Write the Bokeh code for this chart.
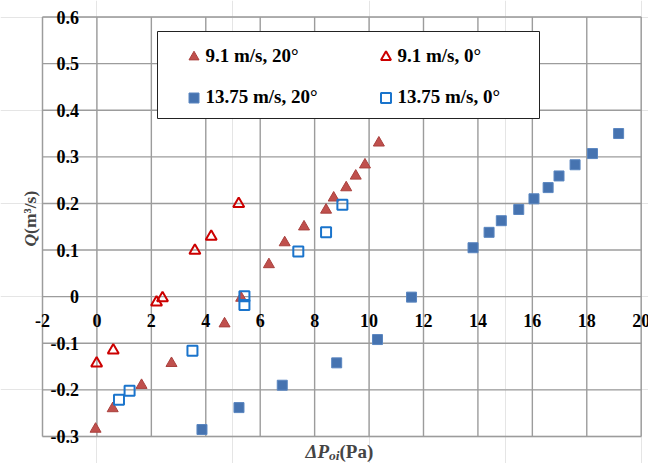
import numpy as np
from bokeh.plotting import figure
from bokeh.models import (ColumnDataSource, Range1d, LabelSet, Label, Legend, LegendItem, BoxAnnotation)
from bokeh.embed import file_html
from bokeh.resources import INLINE
from bokeh.core.properties import value

# ---------------- data ----------------
dp_91_20 = [-0.05, 0.58, 1.64, 2.74, 4.69, 5.30, 6.32, 6.90, 7.61, 8.42, 8.70, 9.16, 9.51, 9.85, 10.36]
q_91_20 = [-0.284, -0.240, -0.190, -0.143, -0.058, -0.003, 0.069, 0.116, 0.150, 0.186, 0.212, 0.234, 0.259, 0.283, 0.330]

dp_91_0 = [-0.01, 0.60, 2.19, 2.41, 3.60, 4.20, 5.21]
q_91_0 = [-0.143, -0.115, -0.012, -0.003, 0.099, 0.129, 0.199]

dp_1375_20 = [3.86, 5.22, 6.81, 8.81, 10.31, 11.56, 13.82, 14.41, 14.86, 15.50, 16.06, 16.58, 16.98, 17.57, 18.21, 19.17]
q_1375_20 = [-0.285, -0.238, -0.190, -0.142, -0.092, -0.001, 0.105, 0.138, 0.163, 0.187, 0.210, 0.234, 0.259, 0.283, 0.307, 0.350]

dp_1375_0 = [0.81, 1.20, 3.51, 5.42, 5.42, 7.40, 8.42, 9.02]
q_1375_0 = [-0.221, -0.202, -0.116, 0.001, -0.018, 0.097, 0.138, 0.197]

x_ticks = [-2, 0, 2, 4, 6, 8, 10, 12, 14, 16, 18, 20]
x_tick_labels = ["-2", "0", "2", "4", "6", "8", "10", "12", "14", "16", "18", "20"]
y_ticks = [-0.3, -0.2, -0.1, 0.0, 0.1, 0.2, 0.3, 0.4, 0.5, 0.6]
y_tick_labels = ["-0.3", "-0.2", "-0.1", "0", "0.1", "0.2", "0.3", "0.4", "0.5", "0.6"]

series_labels = ["9.1 m/s, 20°", "9.1 m/s, 0°", "13.75 m/s, 20°", "13.75 m/s, 0°"]

# ---------------- layout ----------------
W, H = 648, 463
# plot-area box in canvas pixels
PL, PT, PR, PB = 42.0, 16.5, 640.7, 436.0
x_lo, x_hi = -2, 20
y_lo, y_hi = -0.3, 0.6
FONT = "Liberation Serif"

sx = (PR - PL) / (x_hi - x_lo)
sy = (PB - PT) / (y_hi - y_lo)
def dx(px):
    return x_lo + (px - PL) / sx
def dy(py):
    return y_hi - (py - PT) / sy

p = figure(width=W, height=H,
           x_range=Range1d(dx(0), dx(W)), y_range=Range1d(dy(H), dy(0)),
           x_axis_location=None, y_axis_location=None,
           output_backend="svg", toolbar_location=None,
           min_border_left=0, min_border_right=0, min_border_top=0, min_border_bottom=0)
p.background_fill_color = "white"
p.border_fill_color = "white"
p.outline_line_color = None

grid_color = "#9c9c9c"
# grid lines, spanning the plot area only
p.segment(x0=x_ticks, y0=[y_lo] * len(x_ticks), x1=x_ticks, y1=[y_hi] * len(x_ticks),
          line_color=grid_color, line_width=1.4)
p.segment(x0=[x_lo] * len(y_ticks), y0=y_ticks, x1=[x_hi] * len(y_ticks), y1=y_ticks,
          line_color=grid_color, line_width=1.4)
# plot-area border
p.add_layout(BoxAnnotation(left=x_lo, right=x_hi, bottom=y_lo, top=y_hi,
                           fill_alpha=0, line_color="#a8a8a8", line_width=1.4, level="underlay"))

# ---------------- series ----------------
r1 = p.scatter(dp_91_20, q_91_20, marker="triangle", size=11,
               fill_color="#C0504D", line_color="#A9403D", line_width=1)
r2 = p.scatter(dp_91_0, q_91_0, marker="triangle", size=11,
               fill_color=None, line_color="#CC0000", line_width=2)
r3 = p.scatter(dp_1375_20, q_1375_20, marker="square", size=10,
               fill_color="#4673B0", line_color="#5A86C0", line_width=1)
r4 = p.scatter(dp_1375_0, q_1375_0, marker="square", size=10,
               fill_color=None, line_color="#1A74CC", line_width=2)

# ---------------- tick labels (axes cross at 0) ----------------
xsrc = ColumnDataSource(dict(x=x_ticks, y=[0] * len(x_ticks), t=x_tick_labels))
p.add_layout(LabelSet(x="x", y="y", text="t", source=xsrc, y_offset=-24,
                      text_align="center", text_baseline="middle",
                      text_font=value(FONT), text_font_style="bold",
                      text_font_size="18px", text_color="black"))
ysrc = ColumnDataSource(dict(x=[0] * len(y_ticks), y=y_ticks, t=y_tick_labels))
p.add_layout(LabelSet(x="x", y="y", text="t", source=ysrc, x_offset=-18,
                      text_align="right", text_baseline="middle",
                      text_font=value(FONT), text_font_style="bold",
                      text_font_size="18px", text_color="black"))

# ---------------- axis titles ----------------
p.add_layout(Label(x=dx(29), y=dy(246), text="Q", angle=np.pi / 2,
                   text_align="left", text_baseline="middle",
                   text_font=FONT, text_font_style="bold italic", text_font_size="17.5px"))
p.add_layout(Label(x=dx(29), y=dy(233.4), text=" (m³/s)", angle=np.pi / 2,
                   text_align="left", text_baseline="middle",
                   text_font=FONT, text_font_style="bold", text_font_size="17.5px"))

p.add_layout(Label(x=dx(305), y=dy(451), text="ΔP", text_align="left", text_baseline="alphabetic",
                   text_font=FONT, text_font_style="bold italic", text_font_size="19px"))
p.add_layout(Label(x=dx(328.5), y=dy(454.5), text="oi", text_align="left", text_baseline="alphabetic",
                   text_font=FONT, text_font_style="bold italic", text_font_size="13.5px"))
p.add_layout(Label(x=dx(339), y=dy(451), text=" (Pa)", text_align="left", text_baseline="alphabetic",
                   text_font=FONT, text_font_style="bold", text_font_size="19px"))

# ---------------- legend ----------------
p.add_layout(BoxAnnotation(left=dx(157), right=dx(539), top=dy(31), bottom=dy(118),
                           fill_color="white", fill_alpha=1.0,
                           line_color="#222222", line_width=1, line_alpha=1.0))

GW = 25
common = dict(orientation="vertical", glyph_width=GW, glyph_height=GW, label_height=GW,
              label_standoff=0, spacing=41 - GW, padding=0, margin=0,
              background_fill_alpha=0, border_line_alpha=0,
              label_text_font=FONT, label_text_font_style="bold",
              label_text_font_size="19px", label_text_color="black")
legend_bottom_px = 97 + GW / 2
leg1 = Legend(items=[LegendItem(label=series_labels[0], renderers=[r1]),
                     LegendItem(label=series_labels[2], renderers=[r3])],
              location=(193 - GW / 2, H - legend_bottom_px), **common)
leg2 = Legend(items=[LegendItem(label=series_labels[1], renderers=[r2]),
                     LegendItem(label=series_labels[3], renderers=[r4])],
              location=(385 - GW / 2, H - legend_bottom_px), **common)
p.add_layout(leg1)
p.add_layout(leg2)

open("out.html", "w").write(file_html(p, INLINE))
